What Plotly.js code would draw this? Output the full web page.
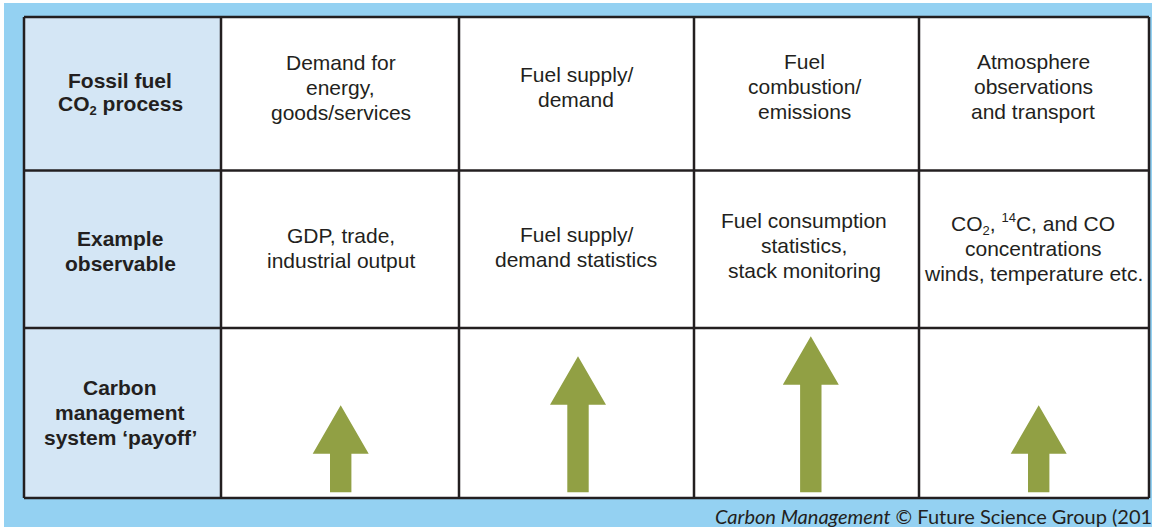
<!DOCTYPE html>
<html>
<head>
<meta charset="utf-8">
<script src="https://cdn.plot.ly/plotly-3.0.1.min.js"></script>
<style>
html,body{margin:0;padding:0;background:#fff;}
#chart{width:1152px;height:527px;}
</style>
</head>
<body>
<div id="chart"></div>
<script>
// ---- data ----
const rowLabels = [
  "Fossil fuel<br>CO<sub><span style=\"font-size:13px\">2</span></sub> process",
  "Example<br>observable",
  "Carbon<br>management<br>system \u2018payoff\u2019"
];
const processes = [
  "Demand for<br>energy,<br>goods/services",
  "Fuel supply/<br>demand",
  "Fuel<br>combustion/<br>emissions",
  "Atmosphere<br>observations<br>and transport"
];
const observables = [
  "GDP, trade,<br>industrial output",
  "Fuel supply/<br>demand statistics",
  "Fuel consumption<br>statistics,<br>stack monitoring",
  "CO<sub><span style=\"font-size:13px\">2</span></sub>, <sup><span style=\"font-size:13px\">14</span></sup>C, and CO<br>concentrations<br>winds, temperature etc."
];
const payoffArrowLength = [87, 136, 156, 87];
const caption = "<i>Carbon Management</i> \u00a9 Future Science Group (2011)";

// ---- layout geometry ----
const W = 1152, H = 527;
const colEdges = [24, 221, 459, 694, 919, 1149];
const rowEdges = [17, 170.5, 328, 498];
const textCenterX = [120, 340.5, 576, 804, 1033];
const row1Y = [92.5, 87.5, 87, 86.5, 86.5];
const row2Y = [250.5, 247.5, 246.5, 245.5, 248.5];
const row3Y0 = 412.5;
const arrowCenterX = [340.7, 578, 810.8, 1038.7];
const arrowBottom = 492.3;
const headH = 48.5, headHalf = 28, shaftHalf = 10.7;
const lineGap = 25;
const ink = "#231f20";
const bodyFont = {family: "Arial, 'Liberation Sans', sans-serif", size: 21, color: ink};

const shapes = [];
shapes.push({type:"rect", xref:"x", yref:"y", x0:4, x1:W, y0:3, y1:H, fillcolor:"#94d1f2", line:{width:0}, layer:"below"});
shapes.push({type:"rect", xref:"x", yref:"y", x0:colEdges[0], x1:colEdges[5], y0:rowEdges[0], y1:rowEdges[3], fillcolor:"#ffffff", line:{width:0}, layer:"below"});
shapes.push({type:"rect", xref:"x", yref:"y", x0:colEdges[0], x1:colEdges[1], y0:rowEdges[0], y1:rowEdges[3], fillcolor:"#d4e6f5", line:{width:0}, layer:"below"});
colEdges.forEach(x => shapes.push({type:"line", xref:"x", yref:"y", x0:x, x1:x, y0:rowEdges[0], y1:rowEdges[3], line:{color:ink, width:2.5}}));
rowEdges.forEach(y => shapes.push({type:"line", xref:"x", yref:"y", x0:colEdges[0], x1:colEdges[5], y0:y, y1:y, line:{color:ink, width:2.5}}));

const annotations = [];
function addCell(text, cx, cy, bold) {
  const lines = text.split("<br>");
  const n = lines.length;
  lines.forEach((ln, i) => {
    annotations.push({
      xref:"x", yref:"y", x:cx, y: cy + (i - (n-1)/2) * lineGap,
      text: bold ? "<b>" + ln + "</b>" : ln,
      showarrow:false, xanchor:"center", yanchor:"middle",
      font: bodyFont
    });
  });
}
addCell(rowLabels[0], textCenterX[0], row1Y[0], true);
addCell(rowLabels[1], textCenterX[0], row2Y[0], true);
addCell(rowLabels[2], textCenterX[0], row3Y0, true);
processes.forEach((t, i) => addCell(t, textCenterX[i+1], row1Y[i+1], false));
observables.forEach((t, i) => addCell(t, textCenterX[i+1], row2Y[i+1], false));

annotations.push({
  xref:"x", yref:"y", x:713, y:516, text:caption, showarrow:false,
  xanchor:"left", yanchor:"middle",
  font:{family:"Lato, sans-serif", size:20, color:ink}
});

const traces = payoffArrowLength.map((L, i) => {
  const cx = arrowCenterX[i];
  const tip = arrowBottom - L;
  const base = tip + headH;
  return {
    type:"scatter", mode:"lines", fill:"toself", fillcolor:"#91a044",
    line:{width:0, color:"#91a044"}, hoverinfo:"skip", showlegend:false,
    x:[cx-shaftHalf, cx-shaftHalf, cx-headHalf, cx, cx+headHalf, cx+shaftHalf, cx+shaftHalf, cx-shaftHalf],
    y:[arrowBottom, base, base, tip, base, base, arrowBottom, arrowBottom]
  };
});

const layout = {
  width:W, height:H, margin:{l:0, r:0, t:0, b:0},
  paper_bgcolor:"#ffffff", plot_bgcolor:"rgba(0,0,0,0)",
  xaxis:{range:[0, W], visible:false, fixedrange:true},
  yaxis:{range:[H, 0], visible:false, fixedrange:true},
  shapes:shapes, annotations:annotations, showlegend:false
};
Plotly.newPlot("chart", traces, layout, {staticPlot:true, displayModeBar:false});
</script>
</body>
</html>
